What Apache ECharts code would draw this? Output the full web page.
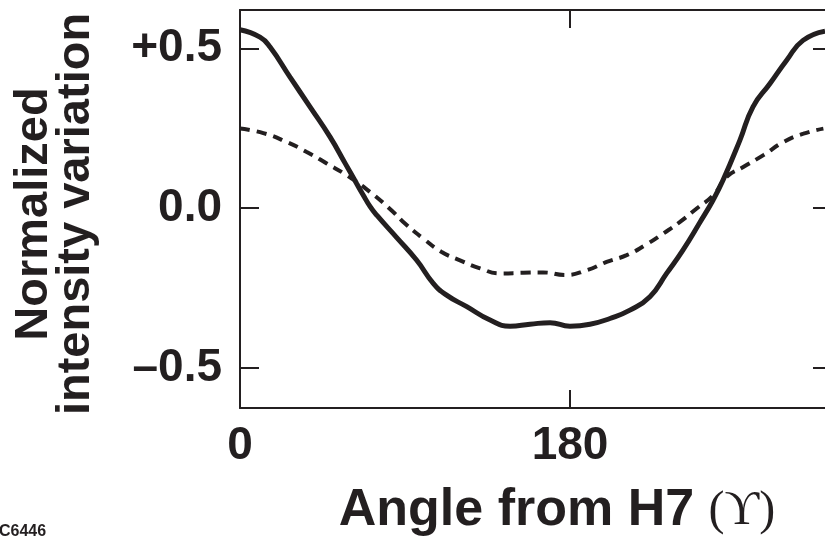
<!DOCTYPE html>
<html>
<head>
<meta charset="utf-8">
<script src="https://cdn.jsdelivr.net/npm/echarts@6/dist/echarts.min.js"></script>
<style>
  html, body { margin: 0; padding: 0; background: #fff; }
  #chart { width: 825px; height: 542px; }
</style>
</head>
<body>
<div id="chart"></div>
<script>
// angle (degrees) and normalized intensity
const solidAngle = [0, 10.9, 16.4, 27.3, 38.2, 49.1, 57.3, 63.6, 67.1, 71.0, 74.6, 85.5, 96.4, 105.3, 112.7, 123.7, 136.4, 147.3, 158.2, 169.1, 180, 190.9, 201.8, 212.7, 223.6, 232.7, 241.6, 250.9, 258.0, 263.5, 272.7, 279.8, 289.1, 298.2, 307.1, 319.1]
const solidValue = [0.558, 0.535, 0.504, 0.410, 0.317, 0.223, 0.141, 0.077, 0.042, 0.005, -0.022, -0.092, -0.163, -0.234, -0.272, -0.308, -0.350, -0.369, -0.363, -0.358, -0.369, -0.363, -0.345, -0.319, -0.277, -0.204, -0.131, -0.044, 0.025, 0.088, 0.213, 0.317, 0.390, 0.463, 0.525, 0.554]

const dashAngle = [0, 12.7, 25.5, 36.4, 47.3, 58.2, 70.9, 83.6, 90.0, 100.0, 110.0, 120.0, 130.9, 141.8, 154.5, 165.4, 177.3, 189.1, 200.0, 210.9, 220.9, 230.9, 240.0, 249.1, 258.2, 265.5, 274.5, 285.5, 296.4, 307.3, 318.2]
const dashValue = [0.249, 0.235, 0.207, 0.176, 0.140, 0.103, 0.051, -0.012, -0.048, -0.095, -0.137, -0.163, -0.188, -0.204, -0.202, -0.201, -0.209, -0.194, -0.168, -0.147, -0.116, -0.079, -0.043, -0.001, 0.041, 0.098, 0.129, 0.166, 0.207, 0.233, 0.249]

const xTicks = [0, 180]
const yTicks = [-0.5, 0, 0.5]

const ink = "#231f20"
const sans = "Liberation Sans, Arial, sans-serif"

const chart = echarts.init(document.getElementById("chart"))

// box frame: every axis line stays at the grid edge
const frameLine = { show: true, onZero: false, lineStyle: { color: ink, width: 2 } }
const tickStyle = { color: ink, width: 2 }

chart.setOption({
  animation: false,
  // the right side of the frame runs just past the page edge
  grid: { left: 240, top: 10, width: 594, height: 398, outerBoundsMode: "none", containLabel: false },
  xAxis: [
    {
      type: "value",
      min: 0,
      max: 324,
      position: "bottom",
      axisLine: frameLine,
      axisTick: { show: true, inside: true, length: 18, customValues: xTicks, lineStyle: tickStyle },
      axisLabel: {
        customValues: xTicks,
        margin: 15,
        color: ink,
        fontFamily: sans,
        fontWeight: "bold",
        fontSize: 46,
      },
      splitLine: { show: false },
    },
    {
      type: "value",
      min: 0,
      max: 324,
      position: "top",
      axisLine: frameLine,
      axisTick: { show: true, inside: true, length: 18, customValues: xTicks, lineStyle: tickStyle },
      axisLabel: { show: false },
      splitLine: { show: false },
    },
  ],
  yAxis: [
    {
      type: "value",
      min: -0.625,
      max: 0.62,
      position: "left",
      axisLine: frameLine,
      axisTick: { show: true, inside: true, length: 19, customValues: yTicks, lineStyle: tickStyle },
      axisLabel: {
        customValues: yTicks,
        margin: 18,
        color: ink,
        fontFamily: sans,
        fontWeight: "bold",
        fontSize: 46,
        formatter: (v) => (v > 0 ? "+" + v.toFixed(1) : v < 0 ? "\u2013" + Math.abs(v).toFixed(1) : "0.0"),
      },
      splitLine: { show: false },
    },
    {
      type: "value",
      min: -0.625,
      max: 0.62,
      position: "right",
      axisLine: frameLine,
      axisTick: { show: true, inside: true, length: 21, customValues: yTicks, lineStyle: tickStyle },
      axisLabel: { show: false },
      splitLine: { show: false },
    },
  ],
  series: [
    {
      type: "line",
      xAxisIndex: 0,
      yAxisIndex: 0,
      data: solidAngle.map((a, i) => [a, solidValue[i]]),
      smooth: 0.5,
      showSymbol: false,
      lineStyle: { color: ink, width: 5 },
    },
    {
      type: "line",
      xAxisIndex: 0,
      yAxisIndex: 0,
      data: dashAngle.map((a, i) => [a, dashValue[i]]),
      smooth: 0.5,
      showSymbol: false,
      lineStyle: { color: ink, width: 4, type: [10, 7] },
    },
  ],
  graphic: [
    {
      type: "text",
      x: 55,
      y: 214,
      rotation: Math.PI / 2,
      style: {
        text: "Normalized\nintensity variation",
        fill: ink,
        font: "bold 47px " + sans,
        lineHeight: 42,
        align: "center",
        verticalAlign: "middle",
      },
    },
    {
      type: "text",
      x: 557,
      y: 511,
      style: {
        text: "{a|Angle from H7 }{b|(\u03D2)}",
        align: "center",
        verticalAlign: "middle",
        rich: {
          a: { fill: ink, fontFamily: sans, fontWeight: "bold", fontSize: 52 },
          b: { fill: ink, fontFamily: "Liberation Serif, DejaVu Serif, serif", fontSize: 48 },
        },
      },
    },
    {
      type: "text",
      x: -1,
      y: 532,
      style: {
        text: "C6446",
        fill: ink,
        font: "bold 16px " + sans,
        align: "left",
        verticalAlign: "middle",
      },
    },
  ],
})
</script>
</body>
</html>
